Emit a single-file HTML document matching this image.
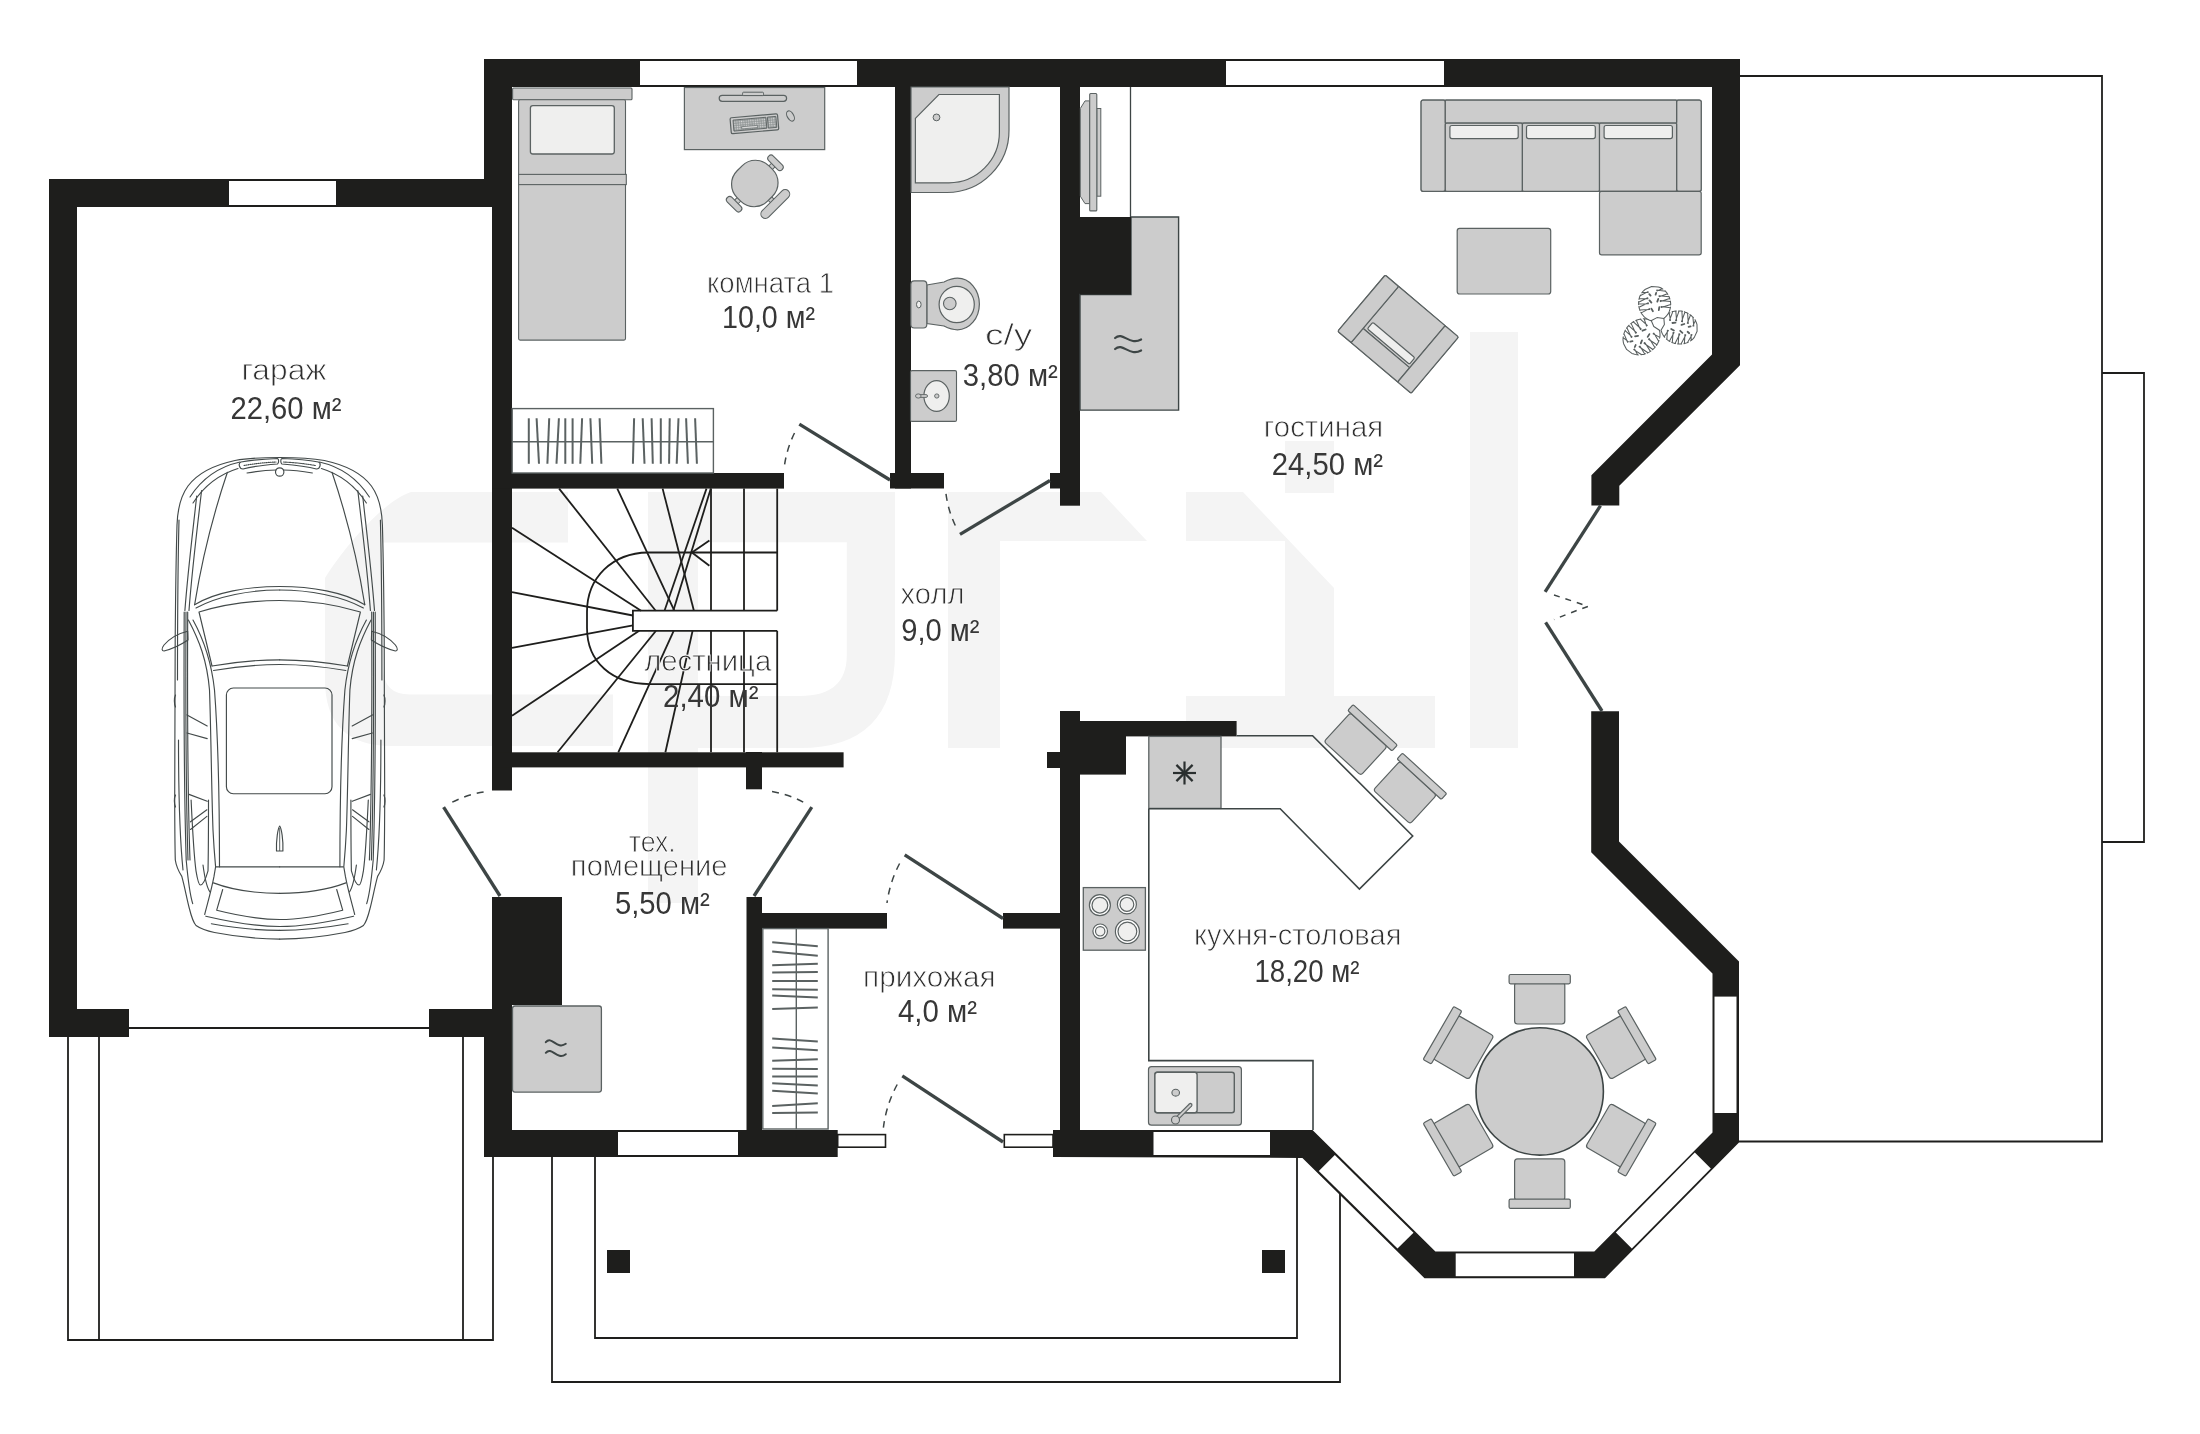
<!DOCTYPE html>
<html><head><meta charset="utf-8"><title>План 1 этажа</title>
<style>
html,body{margin:0;padding:0;background:#fff;}
body{width:2200px;height:1434px;overflow:hidden;font-family:"Liberation Sans",sans-serif;}
svg{display:block;}
</style></head>
<body>
<svg width="2200" height="1434" viewBox="0 0 2200 1434">
<rect width="2200" height="1434" fill="#ffffff"/>
<path d="M411,492 L568,492 L568,542.5 L383,542.5 L383,667 Q383,694.5 410,694.5 L613,694.5 L613,746 L392,746 Q325,746 325,680 L325,578 C345,546 385,500 411,492 Z" fill="#f4f4f4"/>
<path d="M648,492 L895,492 L895,652 Q895,748 800,748 L698,748 L698,903 L648,903 Z M698,542.2 L698,696 L800,696 Q846.8,696 846.8,655 L846.8,542.2 Z" fill="#f4f4f4" fill-rule="evenodd"/>
<polygon points="948.0,492.0 1101.0,492.0 1147.0,541.0 1000.0,541.0 1000.0,748.0 948.0,748.0" fill="#f4f4f4" />
<polygon points="1186.0,492.0 1243.0,492.0 1334.0,588.0 1334.0,696.0 1435.0,696.0 1435.0,748.0 1186.0,748.0 1186.0,696.0 1285.0,696.0 1285.0,541.0 1186.0,541.0" fill="#f4f4f4" />
<rect x="1285.0" y="441.0" width="49.0" height="52.0" fill="#f4f4f4" />
<rect x="1470.0" y="332.0" width="48.0" height="416.0" fill="#f4f4f4" />
<polyline points="1740,76 2102,76 2102,1141.5 1739,1141.5" fill="none" stroke="#1e1e1c" stroke-width="1.8"/>
<polyline points="2102,373 2144,373 2144,842 2102,842" fill="none" stroke="#1e1e1c" stroke-width="1.8"/>
<polyline points="68,1037 68,1340 493,1340 493,1037" fill="none" stroke="#1e1e1c" stroke-width="1.8"/>
<line x1="99.0" y1="1037.0" x2="99.0" y2="1340.0" stroke="#1e1e1c" stroke-width="1.8" />
<line x1="463.0" y1="1037.0" x2="463.0" y2="1340.0" stroke="#1e1e1c" stroke-width="1.8" />
<line x1="129.0" y1="1028.0" x2="429.0" y2="1028.0" stroke="#1e1e1c" stroke-width="1.8" />
<polyline points="552,1157 552,1382 1340,1382 1340,1193" fill="none" stroke="#1e1e1c" stroke-width="1.8"/>
<polyline points="595,1157 595,1338 1297,1338 1297,1157" fill="none" stroke="#1e1e1c" stroke-width="1.8"/>
<rect x="607.0" y="1250.0" width="23.0" height="23.0" fill="#1e1e1c" />
<rect x="1262.0" y="1250.0" width="23.0" height="23.0" fill="#1e1e1c" />
<rect x="49.0" y="179.0" width="28.0" height="858.0" fill="#1e1e1c" />
<rect x="49.0" y="179.0" width="463.0" height="28.0" fill="#1e1e1c" />
<rect x="49.0" y="1009.0" width="80.0" height="28.0" fill="#1e1e1c" />
<rect x="429.0" y="1009.0" width="83.0" height="28.0" fill="#1e1e1c" />
<rect x="484.0" y="59.0" width="28.0" height="148.0" fill="#1e1e1c" />
<rect x="492.0" y="179.0" width="20.0" height="611.5" fill="#1e1e1c" />
<rect x="492.0" y="897.0" width="70.0" height="108.0" fill="#1e1e1c" />
<rect x="492.0" y="1005.0" width="20.0" height="32.0" fill="#1e1e1c" />
<rect x="484.0" y="1009.0" width="28.0" height="148.0" fill="#1e1e1c" />
<rect x="484.0" y="59.0" width="1256.0" height="28.0" fill="#1e1e1c" />
<polygon points="1712.0,59.0 1740.0,59.0 1740.0,365.2 1619.3,485.8 1619.3,505.6 1591.4,505.6 1591.4,475.2 1712.0,354.6" fill="#1e1e1c" />
<polygon points="1591.2,711.3 1619.0,711.3 1619.0,841.5 1739.0,961.5 1739.0,1142.5 1605.0,1278.2 1424.5,1278.2 1302.4,1157.9 1053.0,1157.0 1053.0,1130.0 1312.5,1130.0 1435.4,1251.4 1594.3,1251.4 1712.5,1132.5 1712.5,973.6 1591.2,852.3" fill="#1e1e1c" />
<rect x="484.0" y="1130.0" width="353.7" height="27.0" fill="#1e1e1c" />
<rect x="895.0" y="87.0" width="16.0" height="401.5" fill="#1e1e1c" />
<rect x="890.0" y="473.0" width="54.0" height="15.5" fill="#1e1e1c" />
<rect x="492.0" y="473.0" width="292.0" height="15.6" fill="#1e1e1c" />
<rect x="492.0" y="752.3" width="351.6" height="15.1" fill="#1e1e1c" />
<rect x="746.0" y="752.0" width="16.0" height="37.3" fill="#1e1e1c" />
<rect x="1060.0" y="87.0" width="20.0" height="418.7" fill="#1e1e1c" />
<rect x="1050.0" y="473.0" width="10.0" height="15.5" fill="#1e1e1c" />
<rect x="1080.0" y="217.0" width="51.0" height="77.5" fill="#1e1e1c" />
<rect x="746.5" y="897.0" width="15.5" height="233.0" fill="#1e1e1c" />
<rect x="762.0" y="913.0" width="125.0" height="15.6" fill="#1e1e1c" />
<rect x="1003.0" y="913.0" width="59.0" height="15.6" fill="#1e1e1c" />
<rect x="1060.0" y="711.0" width="20.0" height="446.0" fill="#1e1e1c" />
<rect x="1047.0" y="752.0" width="15.0" height="16.0" fill="#1e1e1c" />
<rect x="1080.0" y="721.0" width="156.6" height="15.4" fill="#1e1e1c" />
<rect x="1080.0" y="736.0" width="46.0" height="38.6" fill="#1e1e1c" />
<rect x="229.0" y="181.0" width="107.0" height="24.0" fill="#ffffff" />
<rect x="640.0" y="61.0" width="217.0" height="24.0" fill="#ffffff" />
<rect x="1226.0" y="61.0" width="218.0" height="24.0" fill="#ffffff" />
<rect x="618.0" y="1132.0" width="120.0" height="23.0" fill="#ffffff" />
<rect x="1153.5" y="1132.0" width="116.5" height="23.0" fill="#ffffff" />
<rect x="1455.7" y="1253.4" width="118.3" height="22.8" fill="#ffffff" />
<rect x="1714.5" y="996.6" width="22.0" height="116.4" fill="#ffffff" />
<polygon points="1334.8,1154.9 1413.5,1232.7 1397.5,1248.6 1318.8,1170.9" fill="#ffffff" />
<polygon points="1615.8,1232.6 1694.8,1152.6 1710.8,1168.6 1631.8,1248.6" fill="#ffffff" />
<line x1="890" y1="480" x2="799.3" y2="424.2" stroke="#3d4545" stroke-width="3.3" stroke-linecap="butt"/>
<path d="M794.5,433.0 A106.5,106.5 0 0 0 784.4,466.0" fill="none" stroke="#3d4545" stroke-width="1.5" stroke-dasharray="7,6"/>
<line x1="1050" y1="480.5" x2="960" y2="534.3" stroke="#3d4545" stroke-width="3.3" stroke-linecap="butt"/>
<path d="M955.3,525.5 A104.9,104.9 0 0 1 945.8,492.3" fill="none" stroke="#3d4545" stroke-width="1.5" stroke-dasharray="7,6"/>
<line x1="500" y1="896" x2="443.6" y2="807.1" stroke="#3d4545" stroke-width="3.3" stroke-linecap="butt"/>
<path d="M452.3,802.2 A105.3,105.3 0 0 1 488.0,791.4" fill="none" stroke="#3d4545" stroke-width="1.5" stroke-dasharray="7,6"/>
<line x1="754" y1="896" x2="811.8" y2="807.1" stroke="#3d4545" stroke-width="3.3" stroke-linecap="butt"/>
<path d="M803.2,802.1 A106.0,106.0 0 0 0 768.1,790.9" fill="none" stroke="#3d4545" stroke-width="1.5" stroke-dasharray="7,6"/>
<line x1="1003" y1="918.5" x2="904.7" y2="854.9" stroke="#3d4545" stroke-width="3.3" stroke-linecap="butt"/>
<path d="M899.6,863.5 A117.1,117.1 0 0 0 887.0,903.0" fill="none" stroke="#3d4545" stroke-width="1.5" stroke-dasharray="7,6"/>
<line x1="1003" y1="1142" x2="902.3" y2="1075.9" stroke="#3d4545" stroke-width="3.3" stroke-linecap="butt"/>
<path d="M897.2,1084.5 A120.5,120.5 0 0 0 883.4,1127.7" fill="none" stroke="#3d4545" stroke-width="1.5" stroke-dasharray="7,6"/>
<line x1="1600.5" y1="505.6" x2="1545.1" y2="591.8" stroke="#3d4545" stroke-width="3.3"/>
<line x1="1602" y1="711" x2="1545.6" y2="622.3" stroke="#3d4545" stroke-width="3.3"/>
<path d="M1554,595 Q1571,600.5 1588,606.4 Q1571,612.5 1554,619.5" fill="none" stroke="#3d4545" stroke-width="1.5" stroke-dasharray="6,6"/>
<rect x="837.7" y="1134.6" width="47.8" height="12.6" fill="#fff" stroke="#1e1e1c" stroke-width="1.6"/>
<rect x="1004.3" y="1134.6" width="48.7" height="12.6" fill="#fff" stroke="#1e1e1c" stroke-width="1.6"/>
<line x1="711.0" y1="488.6" x2="711.0" y2="610.7" stroke="#1e1e1c" stroke-width="1.8" />
<line x1="711.0" y1="630.8" x2="711.0" y2="752.3" stroke="#1e1e1c" stroke-width="1.8" />
<line x1="744.0" y1="488.6" x2="744.0" y2="610.7" stroke="#1e1e1c" stroke-width="1.8" />
<line x1="744.0" y1="630.8" x2="744.0" y2="752.3" stroke="#1e1e1c" stroke-width="1.8" />
<line x1="777.2" y1="488.6" x2="777.2" y2="610.7" stroke="#1e1e1c" stroke-width="1.8" />
<line x1="777.2" y1="630.8" x2="777.2" y2="752.3" stroke="#1e1e1c" stroke-width="1.8" />
<line x1="648.0" y1="552.5" x2="777.2" y2="552.5" stroke="#1e1e1c" stroke-width="1.8" />
<line x1="649.7" y1="684.1" x2="777.2" y2="684.1" stroke="#1e1e1c" stroke-width="1.8" />
<path d="M777.2,610.7 L632.9,610.7 L632.9,630.8 L777.2,630.8" fill="#fff" stroke="#1e1e1c" stroke-width="1.8" fill="none"/>
<path d="M648,552.5 C612,553 587,578 587,612 L587,628 C587,662 612,684 649.7,684.1" stroke="#1e1e1c" stroke-width="1.8" fill="none"/>
<line x1="559.1" y1="488.6" x2="655.7" y2="610.7" stroke="#1e1e1c" stroke-width="1.8" />
<line x1="617.3" y1="488.6" x2="674.3" y2="610.7" stroke="#1e1e1c" stroke-width="1.8" />
<line x1="662.6" y1="488.6" x2="693.9" y2="610.7" stroke="#1e1e1c" stroke-width="1.8" />
<line x1="512.0" y1="527.7" x2="641.1" y2="610.7" stroke="#1e1e1c" stroke-width="1.8" />
<line x1="512.0" y1="592.1" x2="632.9" y2="615.5" stroke="#1e1e1c" stroke-width="1.8" />
<line x1="512.0" y1="647.8" x2="632.9" y2="625.3" stroke="#1e1e1c" stroke-width="1.8" />
<line x1="512.0" y1="715.7" x2="639.2" y2="630.8" stroke="#1e1e1c" stroke-width="1.8" />
<line x1="557.6" y1="752.3" x2="656.0" y2="630.8" stroke="#1e1e1c" stroke-width="1.8" />
<line x1="618.3" y1="752.3" x2="673.7" y2="630.8" stroke="#1e1e1c" stroke-width="1.8" />
<line x1="665.4" y1="752.3" x2="692.6" y2="630.8" stroke="#1e1e1c" stroke-width="1.8" />
<line x1="706.5" y1="488.6" x2="664.5" y2="610.7" stroke="#1e1e1c" stroke-width="1.8" />
<line x1="710.8" y1="488.6" x2="673.3" y2="610.7" stroke="#1e1e1c" stroke-width="1.8" />
<line x1="709.4" y1="540.4" x2="691.9" y2="552.5" stroke="#1e1e1c" stroke-width="1.8" />
<line x1="691.9" y1="552.5" x2="709.4" y2="565.7" stroke="#1e1e1c" stroke-width="1.8" />
<rect x="512.6" y="88.0" width="119.4" height="11.8" rx="1" fill="#cccccc" stroke="#5b6262" stroke-width="1.1" />
<rect x="518.6" y="99.8" width="106.9" height="240.3" rx="1.5" fill="#cccccc" stroke="#5b6262" stroke-width="1.1" />
<rect x="518.6" y="174.4" width="107.7" height="10.2" rx="0" fill="#cccccc" stroke="#5b6262" stroke-width="1.1" />
<rect x="530.4" y="105.6" width="83.9" height="48.4" rx="2.5" fill="#efefee" stroke="#5b6262" stroke-width="1.3" />
<rect x="684.4" y="87.5" width="140.3" height="62.1" rx="0" fill="#cccccc" stroke="#5b6262" stroke-width="1.2" />
<rect x="719.2" y="95.3" width="67.4" height="6.0" rx="3" fill="#cccccc" stroke="#5b6262" stroke-width="1.2" />
<rect x="742.6" y="92.2" width="20.9" height="3.4" rx="1" fill="#cccccc" stroke="#5b6262" stroke-width="1" />
<g transform="translate(754.4,123.8) rotate(-5)">
<rect x="-23.8" y="-8.0" width="47.6" height="16.0" rx="1.5" fill="#cccccc" stroke="#5b6262" stroke-width="1.2" />
<defs><pattern id="kb" width="2.3" height="2.3" patternUnits="userSpaceOnUse"><rect width="2.3" height="2.3" fill="#8a9090"/><rect x="0.5" y="0.5" width="1.4" height="1.4" fill="#d8d8d8"/></pattern></defs>
<rect x="-21" y="-5.5" width="33" height="11" fill="url(#kb)" stroke="#5b6262" stroke-width="0.9"/>
<rect x="13.5" y="-5.5" width="8.5" height="11" fill="url(#kb)" stroke="#5b6262" stroke-width="0.9"/>
<rect x="-13" y="1.8" width="16" height="2.2" fill="#d8d8d8" stroke="#5b6262" stroke-width="0.6"/>
</g>
<ellipse cx="790.5" cy="116" rx="3.2" ry="5.6" transform="rotate(-30 790.5 116)" fill="#cccccc" stroke="#5b6262" stroke-width="1.1"/>
<g transform="translate(754.8,183.5) rotate(45)">
<rect x="-2.5" y="-27.0" width="5.0" height="54.0" rx="0" fill="#cccccc" stroke="#5b6262" stroke-width="1" />
<rect x="18.0" y="-2.5" width="8.0" height="5.0" rx="0" fill="#cccccc" stroke="#5b6262" stroke-width="1" />
<rect x="-9.5" y="26.0" width="19.0" height="6.5" rx="3.2" fill="#cccccc" stroke="#5b6262" stroke-width="1.1" />
<rect x="-9.5" y="-32.5" width="19.0" height="6.5" rx="3.2" fill="#cccccc" stroke="#5b6262" stroke-width="1.1" />
<rect x="24.5" y="-18.5" width="9.0" height="37.0" rx="4.5" fill="#cccccc" stroke="#5b6262" stroke-width="1.1" />
<rect x="-21.5" y="-22.5" width="43" height="45" rx="19" fill="#cccccc" stroke="#5b6262" stroke-width="1.2"/>
</g>
<rect x="512.2" y="408.6" width="201.2" height="64.4" fill="#fff" stroke="#5b6262" stroke-width="1.4"/>
<line x1="512.2" y1="441.7" x2="713.4" y2="441.7" stroke="#5b6262" stroke-width="1.4" />
<line x1="528.8" y1="418.3" x2="528.8" y2="463.8" stroke="#5b6262" stroke-width="2.0" />
<line x1="536.6" y1="418.3" x2="539.0" y2="463.8" stroke="#5b6262" stroke-width="2.0" />
<line x1="549.2" y1="418.3" x2="547.4" y2="463.8" stroke="#5b6262" stroke-width="2.0" />
<line x1="558.9" y1="418.3" x2="556.5" y2="463.8" stroke="#5b6262" stroke-width="2.0" />
<line x1="565.3" y1="418.3" x2="565.3" y2="463.8" stroke="#5b6262" stroke-width="2.0" />
<line x1="572.6" y1="418.3" x2="572.6" y2="463.8" stroke="#5b6262" stroke-width="2.0" />
<line x1="582.1" y1="418.3" x2="580.3" y2="463.8" stroke="#5b6262" stroke-width="2.0" />
<line x1="590.4" y1="418.3" x2="592.2" y2="463.8" stroke="#5b6262" stroke-width="2.0" />
<line x1="599.6" y1="418.3" x2="601.4" y2="463.8" stroke="#5b6262" stroke-width="2.0" />
<line x1="634.1" y1="418.3" x2="632.9" y2="463.8" stroke="#5b6262" stroke-width="2.0" />
<line x1="642.7" y1="418.3" x2="644.5" y2="463.8" stroke="#5b6262" stroke-width="2.0" />
<line x1="651.6" y1="418.3" x2="652.8" y2="463.8" stroke="#5b6262" stroke-width="2.0" />
<line x1="660.8" y1="418.3" x2="660.8" y2="463.8" stroke="#5b6262" stroke-width="2.0" />
<line x1="669.7" y1="418.3" x2="669.1" y2="463.8" stroke="#5b6262" stroke-width="2.0" />
<line x1="678.5" y1="418.3" x2="676.7" y2="463.8" stroke="#5b6262" stroke-width="2.0" />
<line x1="686.1" y1="418.3" x2="687.9" y2="463.8" stroke="#5b6262" stroke-width="2.0" />
<line x1="695.1" y1="418.3" x2="696.9" y2="463.8" stroke="#5b6262" stroke-width="2.0" />
<path d="M911,87 L1009,87 L1009,130 A62,62 0 0 1 947,192.5 L911,192.5 Z" fill="#cccccc" stroke="#5b6262" stroke-width="1.2"/>
<path d="M915.4,118.3 L938.9,94.5 L999.4,94.5 L999.4,132 A50.5,50.5 0 0 1 948.9,182.8 L915.4,182.8 Z" fill="#efefee" stroke="#5b6262" stroke-width="1.2"/>
<circle cx="936.5" cy="117.4" r="3.4" fill="#cccccc" stroke="#5b6262" stroke-width="1"/>
<path d="M926.8,285 L944,282 C949,279.5 953,278.2 957.5,278.2 A21.9,25.8 0 0 1 957.5,329.8 C953,329.8 949,328.5 944,326 L926.8,323.5 Z" fill="#cccccc" stroke="#5b6262" stroke-width="1.2"/>
<rect x="910.8" y="280.9" width="16.0" height="47.1" rx="3.5" fill="#cccccc" stroke="#5b6262" stroke-width="1.2" />
<ellipse cx="918.8" cy="304.5" rx="2.3" ry="3.4" fill="#efefee" stroke="#5b6262" stroke-width="1"/>
<ellipse cx="956.7" cy="304.5" rx="17.6" ry="18.2" fill="#efefee" stroke="#5b6262" stroke-width="1.2"/>
<circle cx="949.8" cy="303.5" r="6.3" fill="#cccccc" stroke="#5b6262" stroke-width="1.1"/>
<rect x="910.5" y="370.6" width="46.0" height="50.8" rx="1.5" fill="#cccccc" stroke="#5b6262" stroke-width="1.1" />
<ellipse cx="936.6" cy="396" rx="12.7" ry="15.4" fill="#efefee" stroke="#5b6262" stroke-width="1.2"/>
<rect x="918.5" y="394.6" width="9" height="2.8" rx="1.4" fill="#cccccc" stroke="#5b6262" stroke-width="0.9"/>
<ellipse cx="918.3" cy="396" rx="2.8" ry="2.1" fill="#cccccc" stroke="#5b6262" stroke-width="0.9"/>
<ellipse cx="936.8" cy="396" rx="2.2" ry="2.1" fill="#cccccc" stroke="#5b6262" stroke-width="0.9"/>
<line x1="1130.5" y1="87.0" x2="1130.5" y2="217.0" stroke="#3d4545" stroke-width="1.3" />
<polygon points="1080.3,108.5 1085,100.9 1089.7,100.9 1089.7,203.6 1085,203.6 1080.3,196.2" fill="#cccccc" stroke="#5b6262" stroke-width="1"/>
<rect x="1096.8" y="108.5" width="4.0" height="87.7" rx="0" fill="#cccccc" stroke="#5b6262" stroke-width="1" />
<rect x="1089.7" y="93.5" width="7.1" height="117.4" rx="1" fill="#cccccc" stroke="#5b6262" stroke-width="1.1" />
<path d="M1131,217 L1178.6,217 L1178.6,410.1 L1080,410.1 L1080,294.5 L1131,294.5 Z" fill="#cccccc" stroke="#3d4545" stroke-width="1.4"/>
<rect x="1080.0" y="217.0" width="51.0" height="77.5" fill="#1e1e1c" />
<path d="M1115.1,338.0 C1122.9,331.0 1129.4,346.0 1141.1,339.5" fill="none" stroke="#3d4545" stroke-width="2.2" stroke-linecap="round"/>
<path d="M1115.1,349.0 C1122.9,342.0 1129.4,357.0 1141.1,350.5" fill="none" stroke="#3d4545" stroke-width="2.2" stroke-linecap="round"/>
<rect x="1421.1" y="100.2" width="280.1" height="91.1" rx="2" fill="#cccccc" stroke="#5b6262" stroke-width="1.2" />
<rect x="1421.1" y="100.2" width="24.2" height="91.1" rx="2" fill="#cccccc" stroke="#5b6262" stroke-width="1.2" />
<rect x="1676.6" y="100.2" width="24.6" height="91.1" rx="2" fill="#cccccc" stroke="#5b6262" stroke-width="1.2" />
<rect x="1445.3" y="100.2" width="231.3" height="23.0" rx="1" fill="#cccccc" stroke="#5b6262" stroke-width="1.2" />
<rect x="1445.3" y="123.2" width="77.1" height="68.1" rx="1.5" fill="#cccccc" stroke="#5b6262" stroke-width="1.2" />
<rect x="1522.4" y="123.2" width="77.1" height="68.1" rx="1.5" fill="#cccccc" stroke="#5b6262" stroke-width="1.2" />
<rect x="1599.5" y="123.2" width="77.1" height="68.1" rx="1" fill="#cccccc" stroke="#5b6262" stroke-width="1.2" />
<rect x="1449.9" y="125.5" width="68.3" height="13.1" rx="2" fill="#efefee" stroke="#5b6262" stroke-width="1.2" />
<rect x="1526.5" y="125.5" width="68.8" height="13.1" rx="2" fill="#efefee" stroke="#5b6262" stroke-width="1.2" />
<rect x="1604.1" y="125.5" width="68.3" height="13.1" rx="2" fill="#efefee" stroke="#5b6262" stroke-width="1.2" />
<rect x="1599.5" y="191.3" width="101.7" height="63.5" rx="2" fill="#cccccc" stroke="#5b6262" stroke-width="1.2" />
<rect x="1457.2" y="228.4" width="93.5" height="65.6" rx="2.5" fill="#cccccc" stroke="#5b6262" stroke-width="1.2" />
<g transform="translate(1385.2,275.1) rotate(40.2)">
<rect x="0.0" y="0.0" width="96.0" height="73.5" rx="1.5" fill="#cccccc" stroke="#5b6262" stroke-width="1.2" />
<rect x="17.5" y="0.0" width="61.0" height="55.0" rx="0" fill="#cccccc" stroke="#5b6262" stroke-width="1.2" />
<rect x="17.5" y="55.0" width="61.0" height="18.5" rx="0" fill="#cccccc" stroke="#5b6262" stroke-width="1.2" />
<rect x="0.0" y="0.0" width="17.5" height="73.5" rx="1.5" fill="#cccccc" stroke="#5b6262" stroke-width="1.2" />
<rect x="78.5" y="0.0" width="17.5" height="73.5" rx="1.5" fill="#cccccc" stroke="#5b6262" stroke-width="1.2" />
<rect x="21.0" y="44.0" width="55.0" height="8.5" rx="1.5" fill="#efefee" stroke="#5b6262" stroke-width="1.2" />
</g>
<polygon points="1653.8,326.5 1651.1,320.2 1649.2,319.5 1647.5,319.1 1646.0,318.9 1644.6,318.8 1643.3,318.8 1644.1,318.7 1646.5,326.0 1647.3,325.3 1640.3,319.1 1640.9,319.0 1639.8,319.2 1638.7,319.5 1637.7,319.8 1636.7,320.2 1635.7,320.6 1636.3,320.3 1640.4,329.6 1641.2,329.0 1633.4,321.8 1633.9,321.5 1633.0,322.0 1632.2,322.6 1631.4,323.2 1630.6,323.8 1631.1,323.4 1635.7,333.3 1636.5,332.6 1628.7,325.6 1629.1,325.2 1628.4,325.9 1627.8,326.6 1627.1,327.4 1626.5,328.3 1626.9,327.8 1631.4,337.5 1632.1,336.8 1625.1,330.7 1625.4,330.1 1624.9,331.1 1624.5,332.1 1624.1,333.1 1623.7,334.3 1623.9,333.6 1627.6,342.3 1628.3,341.6 1623.1,337.6 1623.2,336.8 1623.1,338.1 1623.0,339.7 1623.2,341.4 1623.5,343.4 1626.6,349.4 1631.9,353.4 1633.9,354.1 1635.5,354.5 1637.0,354.8 1638.4,354.9 1637.6,354.8 1634.5,349.0 1633.7,349.6 1641.7,354.7 1641.0,354.8 1642.1,354.6 1643.3,354.4 1644.3,354.2 1645.4,353.8 1644.7,354.0 1639.9,346.1 1639.1,346.7 1647.9,352.8 1647.3,353.1 1648.3,352.6 1649.2,352.1 1650.0,351.6 1650.9,351.1 1650.4,351.4 1644.8,342.5 1644.0,343.2 1652.9,349.5 1652.5,349.8 1653.2,349.2 1653.9,348.5 1654.6,347.8 1655.3,347.0 1654.9,347.5 1649.2,338.5 1648.5,339.2 1656.9,344.8 1656.5,345.4 1657.1,344.5 1657.6,343.6 1658.1,342.6 1658.6,341.6 1659.0,340.5 1658.7,341.2 1653.8,333.1 1653.1,333.8 1659.8,337.4 1659.6,338.2 1659.9,336.9 1660.0,335.5 1660.0,334.0 1659.9,332.3 1659.5,330.3" fill="#fff" stroke="#585e5e" stroke-width="1.05" stroke-linejoin="round"/>
<line x1="1645.6" y1="329.5" x2="1642.5" y2="330.7" stroke="#585e5e" stroke-width="1.8" stroke-linecap="round"/>
<line x1="1649.4" y1="334.1" x2="1647.7" y2="336.9" stroke="#585e5e" stroke-width="1.8" stroke-linecap="round"/>
<line x1="1638.1" y1="335.8" x2="1635.1" y2="336.4" stroke="#585e5e" stroke-width="1.8" stroke-linecap="round"/>
<line x1="1642.0" y1="340.4" x2="1640.8" y2="343.3" stroke="#585e5e" stroke-width="1.8" stroke-linecap="round"/>
<line x1="1632.5" y1="341.2" x2="1630.3" y2="341.7" stroke="#585e5e" stroke-width="1.8" stroke-linecap="round"/>
<line x1="1635.7" y1="345.0" x2="1634.8" y2="347.0" stroke="#585e5e" stroke-width="1.8" stroke-linecap="round"/>
<polygon points="1664.4,324.4 1661.0,330.3 1661.7,332.2 1662.4,333.8 1663.1,335.1 1663.9,336.3 1664.7,337.3 1664.2,336.7 1668.4,330.4 1667.4,330.2 1666.9,339.4 1666.4,339.0 1667.2,339.7 1668.1,340.4 1669.0,341.0 1669.9,341.5 1669.4,341.2 1674.1,332.6 1673.1,332.4 1672.3,342.6 1671.8,342.4 1672.7,342.8 1673.7,343.1 1674.6,343.4 1675.6,343.6 1675.0,343.5 1679.9,334.1 1678.9,333.8 1678.2,344.0 1677.6,343.9 1678.6,344.0 1679.6,344.1 1680.6,344.0 1681.7,344.0 1681.0,344.0 1685.8,334.9 1684.9,334.6 1684.4,343.5 1683.8,343.7 1684.8,343.4 1685.9,343.1 1687.0,342.7 1688.2,342.2 1687.5,342.6 1692.0,334.8 1691.0,334.6 1691.2,340.4 1690.5,340.9 1691.7,340.0 1693.0,338.9 1694.3,337.4 1697.1,331.3 1697.0,324.6 1696.4,322.7 1695.7,321.1 1695.0,319.8 1695.4,320.6 1692.9,325.9 1693.8,326.1 1692.9,317.1 1693.4,317.7 1692.5,316.8 1691.7,316.0 1690.8,315.2 1689.9,314.6 1690.5,315.0 1687.3,323.3 1688.3,323.5 1687.6,313.2 1688.1,313.5 1687.2,313.0 1686.3,312.5 1685.3,312.2 1684.4,311.8 1685.0,312.0 1681.5,321.6 1682.5,321.8 1681.9,311.2 1682.5,311.3 1681.5,311.1 1680.5,311.0 1679.5,310.9 1678.5,310.9 1679.1,310.9 1675.6,320.6 1676.6,320.8 1675.8,311.0 1676.4,311.0 1675.4,311.1 1674.3,311.3 1673.2,311.5 1672.1,311.8 1672.8,311.6 1669.5,320.3 1670.5,320.5 1669.2,313.0 1669.9,312.7 1668.8,313.3 1667.6,314.0 1666.4,314.9 1665.1,316.0 1663.8,317.6" fill="#fff" stroke="#585e5e" stroke-width="1.05" stroke-linejoin="round"/>
<line x1="1671.2" y1="328.9" x2="1673.9" y2="330.5" stroke="#585e5e" stroke-width="1.8" stroke-linecap="round"/>
<line x1="1672.4" y1="323.0" x2="1675.5" y2="322.6" stroke="#585e5e" stroke-width="1.8" stroke-linecap="round"/>
<line x1="1680.2" y1="330.8" x2="1682.4" y2="332.8" stroke="#585e5e" stroke-width="1.8" stroke-linecap="round"/>
<line x1="1681.5" y1="324.9" x2="1684.3" y2="324.0" stroke="#585e5e" stroke-width="1.8" stroke-linecap="round"/>
<line x1="1687.6" y1="331.8" x2="1689.2" y2="333.2" stroke="#585e5e" stroke-width="1.8" stroke-linecap="round"/>
<line x1="1688.6" y1="326.9" x2="1690.6" y2="326.4" stroke="#585e5e" stroke-width="1.8" stroke-linecap="round"/>
<polygon points="1657.0,317.6 1663.8,318.4 1665.3,317.1 1666.5,315.9 1667.4,314.7 1668.2,313.6 1668.8,312.5 1669.3,311.4 1669.7,310.3 1670.0,309.2 1670.3,308.1 1670.5,307.1 1670.4,307.7 1661.0,306.5 1661.2,307.5 1670.7,304.4 1670.6,305.0 1670.7,304.0 1670.6,303.0 1670.5,302.0 1670.4,301.0 1670.5,301.6 1660.2,300.6 1660.4,301.6 1669.7,298.5 1669.9,299.1 1669.6,298.1 1669.3,297.2 1668.8,296.2 1669.1,296.8 1659.0,295.7 1659.2,296.7 1667.5,293.8 1667.8,294.4 1667.2,293.4 1666.6,292.6 1665.8,291.7 1665.0,290.8 1665.5,291.3 1656.7,290.0 1656.9,291.0 1662.2,288.7 1662.9,289.1 1661.6,288.3 1660.1,287.6 1658.2,286.9 1651.6,286.6 1645.5,289.2 1643.9,290.5 1642.7,291.7 1641.8,292.9 1642.3,292.2 1648.1,292.6 1648.0,291.6 1640.1,295.8 1640.4,295.1 1639.9,296.2 1639.5,297.3 1639.2,298.4 1639.0,299.4 1639.1,298.8 1647.9,298.7 1647.7,297.7 1638.6,302.2 1638.6,301.5 1638.6,302.6 1638.6,303.6 1638.6,304.6 1638.6,304.0 1648.4,303.7 1648.3,302.7 1639.0,307.2 1638.9,306.6 1639.1,307.6 1639.3,308.5 1639.6,309.5 1640.0,310.4 1639.7,309.9 1649.7,309.5 1649.5,308.6 1641.2,312.9 1640.9,312.3 1641.4,313.2 1642.0,314.1 1642.7,315.0 1643.4,315.9 1644.3,316.8 1645.2,317.6 1646.3,318.5 1647.6,319.3 1649.1,320.0 1651.0,320.7" fill="#fff" stroke="#585e5e" stroke-width="1.05" stroke-linejoin="round"/>
<line x1="1658.8" y1="310.2" x2="1659.3" y2="307.2" stroke="#585e5e" stroke-width="1.8" stroke-linecap="round"/>
<line x1="1652.9" y1="311.2" x2="1651.4" y2="308.6" stroke="#585e5e" stroke-width="1.8" stroke-linecap="round"/>
<line x1="1657.3" y1="301.6" x2="1658.3" y2="298.9" stroke="#585e5e" stroke-width="1.8" stroke-linecap="round"/>
<line x1="1651.4" y1="302.6" x2="1649.5" y2="300.4" stroke="#585e5e" stroke-width="1.8" stroke-linecap="round"/>
<line x1="1655.6" y1="294.7" x2="1656.2" y2="292.8" stroke="#585e5e" stroke-width="1.8" stroke-linecap="round"/>
<line x1="1650.6" y1="295.6" x2="1649.3" y2="294.1" stroke="#585e5e" stroke-width="1.8" stroke-linecap="round"/>
<rect x="1148.8" y="736.4" width="72.2" height="72.0" rx="0" fill="#cccccc" stroke="#5b6262" stroke-width="1.3" />
<line x1="1184.5" y1="761.5" x2="1184.5" y2="784.5" stroke="#2a2f2f" stroke-width="2.2" />
<line x1="1192.6" y1="764.9" x2="1176.4" y2="781.1" stroke="#2a2f2f" stroke-width="2.2" />
<line x1="1196.0" y1="773.0" x2="1173.0" y2="773.0" stroke="#2a2f2f" stroke-width="2.2" />
<line x1="1192.6" y1="781.1" x2="1176.4" y2="764.9" stroke="#2a2f2f" stroke-width="2.2" />
<path d="M1236.6,735.8 L1312.6,735.8 L1412.7,836 L1359.4,889.1 L1280.2,808.7 L1148.8,808.7 M1148.8,808.7 L1148.8,1060.6 L1313,1060.6 L1313,1130" fill="none" stroke="#3d4545" stroke-width="1.6"/>
<g transform="translate(1355.6,744.1) rotate(42.5)">
<rect x="-25.0" y="-19.5" width="50.0" height="39.0" rx="3" fill="#cccccc" stroke="#5b6262" stroke-width="1.2" />
<rect x="-28.5" y="-27.5" width="60.0" height="8.0" rx="1.5" fill="#cccccc" stroke="#5b6262" stroke-width="1.2" />
</g>
<g transform="translate(1404.9,792.6) rotate(42.5)">
<rect x="-25.0" y="-19.5" width="50.0" height="39.0" rx="3" fill="#cccccc" stroke="#5b6262" stroke-width="1.2" />
<rect x="-28.5" y="-27.5" width="60.0" height="8.0" rx="1.5" fill="#cccccc" stroke="#5b6262" stroke-width="1.2" />
</g>
<rect x="1083.3" y="887.6" width="62.1" height="62.6" rx="0" fill="#cccccc" stroke="#5b6262" stroke-width="1.3" />
<circle cx="1099.9" cy="905.2" r="10.5" fill="#fff" stroke="#5b6262" stroke-width="1.2"/>
<circle cx="1099.9" cy="905.2" r="7.9" fill="#efefee" stroke="#5b6262" stroke-width="1.2"/>
<circle cx="1126.9" cy="904.4" r="9.5" fill="#fff" stroke="#5b6262" stroke-width="1.2"/>
<circle cx="1126.9" cy="904.4" r="6.9" fill="#efefee" stroke="#5b6262" stroke-width="1.2"/>
<circle cx="1100.2" cy="931.3" r="7.3" fill="#fff" stroke="#5b6262" stroke-width="1.2"/>
<circle cx="1100.2" cy="931.3" r="4.7" fill="#efefee" stroke="#5b6262" stroke-width="1.2"/>
<circle cx="1127.4" cy="931.5" r="12" fill="#fff" stroke="#5b6262" stroke-width="1.2"/>
<circle cx="1127.4" cy="931.5" r="9.4" fill="#efefee" stroke="#5b6262" stroke-width="1.2"/>
<rect x="1148.5" y="1066.7" width="92.9" height="58.5" rx="3" fill="#cccccc" stroke="#5b6262" stroke-width="1.2" />
<rect x="1154.9" y="1072.3" width="79.4" height="40.4" rx="2.5" fill="#cccccc" stroke="#5b6262" stroke-width="1.4" />
<rect x="1154.9" y="1072.3" width="42.2" height="40.4" rx="2.5" fill="#efefee" stroke="#5b6262" stroke-width="1.4" />
<ellipse cx="1175.7" cy="1092.7" rx="3.8" ry="3.4" fill="#cccccc" stroke="#5b6262" stroke-width="1.1"/>
<line x1="1176.2" y1="1119.3" x2="1190.4" y2="1105.1" stroke="#5b6262" stroke-width="4.2" stroke-linecap="round"/>
<line x1="1176.2" y1="1119.3" x2="1190.4" y2="1105.1" stroke="#cccccc" stroke-width="2" stroke-linecap="round"/>
<circle cx="1175.5" cy="1120" r="4" fill="#cccccc" stroke="#5b6262" stroke-width="1.1"/>
<g transform="translate(1539.7,1003.2) rotate(0.0)">
<rect x="-25.1" y="-20.9" width="50.2" height="41.7" rx="3" fill="#cccccc" stroke="#5b6262" stroke-width="1.2" />
<rect x="-30.6" y="-28.7" width="61.2" height="9.3" rx="1.5" fill="#cccccc" stroke="#5b6262" stroke-width="1.2" />
</g>
<g transform="translate(1616.1,1047.3) rotate(60.0)">
<rect x="-25.1" y="-20.9" width="50.2" height="41.7" rx="3" fill="#cccccc" stroke="#5b6262" stroke-width="1.2" />
<rect x="-30.6" y="-28.7" width="61.2" height="9.3" rx="1.5" fill="#cccccc" stroke="#5b6262" stroke-width="1.2" />
</g>
<g transform="translate(1616.1,1135.5) rotate(120.0)">
<rect x="-25.1" y="-20.9" width="50.2" height="41.7" rx="3" fill="#cccccc" stroke="#5b6262" stroke-width="1.2" />
<rect x="-30.6" y="-28.7" width="61.2" height="9.3" rx="1.5" fill="#cccccc" stroke="#5b6262" stroke-width="1.2" />
</g>
<g transform="translate(1539.7,1179.7) rotate(180.0)">
<rect x="-25.1" y="-20.9" width="50.2" height="41.7" rx="3" fill="#cccccc" stroke="#5b6262" stroke-width="1.2" />
<rect x="-30.6" y="-28.7" width="61.2" height="9.3" rx="1.5" fill="#cccccc" stroke="#5b6262" stroke-width="1.2" />
</g>
<g transform="translate(1463.3,1135.5) rotate(240.0)">
<rect x="-25.1" y="-20.9" width="50.2" height="41.7" rx="3" fill="#cccccc" stroke="#5b6262" stroke-width="1.2" />
<rect x="-30.6" y="-28.7" width="61.2" height="9.3" rx="1.5" fill="#cccccc" stroke="#5b6262" stroke-width="1.2" />
</g>
<g transform="translate(1463.3,1047.3) rotate(300.0)">
<rect x="-25.1" y="-20.9" width="50.2" height="41.7" rx="3" fill="#cccccc" stroke="#5b6262" stroke-width="1.2" />
<rect x="-30.6" y="-28.7" width="61.2" height="9.3" rx="1.5" fill="#cccccc" stroke="#5b6262" stroke-width="1.2" />
</g>
<circle cx="1539.7" cy="1091.4" r="63.7" fill="#cccccc" stroke="#3d4545" stroke-width="1.6"/>
<rect x="512.5" y="1006.0" width="88.9" height="86.1" rx="2.5" fill="#cccccc" stroke="#5b6262" stroke-width="1.3" />
<path d="M545.8,1042.2 C551.8,1035.2 556.8,1050.2 565.8,1043.8" fill="none" stroke="#3d4545" stroke-width="2" stroke-linecap="round"/>
<path d="M545.8,1052.8 C551.8,1045.8 556.8,1060.8 565.8,1054.2" fill="none" stroke="#3d4545" stroke-width="2" stroke-linecap="round"/>
<rect x="762.8" y="928.6" width="65.3" height="200.4" fill="#fff" stroke="#5b6262" stroke-width="1.4"/>
<line x1="796.3" y1="928.6" x2="796.3" y2="1129.0" stroke="#5b6262" stroke-width="1.4" />
<line x1="772.2" y1="942.2" x2="817.8" y2="946.3" stroke="#5b6262" stroke-width="2.0" />
<line x1="772.2" y1="951.6" x2="817.8" y2="955.8" stroke="#5b6262" stroke-width="2.0" />
<line x1="772.2" y1="965.2" x2="817.8" y2="963.7" stroke="#5b6262" stroke-width="2.0" />
<line x1="772.2" y1="972.5" x2="817.8" y2="971.9" stroke="#5b6262" stroke-width="2.0" />
<line x1="772.2" y1="980.9" x2="817.8" y2="980.9" stroke="#5b6262" stroke-width="2.0" />
<line x1="772.2" y1="989.2" x2="817.8" y2="989.8" stroke="#5b6262" stroke-width="2.0" />
<line x1="772.2" y1="995.5" x2="817.8" y2="997.6" stroke="#5b6262" stroke-width="2.0" />
<line x1="772.2" y1="1009.1" x2="817.8" y2="1007.6" stroke="#5b6262" stroke-width="2.0" />
<line x1="772.2" y1="1038.4" x2="817.8" y2="1041.5" stroke="#5b6262" stroke-width="2.0" />
<line x1="772.2" y1="1047.4" x2="817.8" y2="1050.3" stroke="#5b6262" stroke-width="2.0" />
<line x1="772.2" y1="1060.8" x2="817.8" y2="1059.3" stroke="#5b6262" stroke-width="2.0" />
<line x1="772.2" y1="1068.7" x2="817.8" y2="1069.1" stroke="#5b6262" stroke-width="2.0" />
<line x1="772.2" y1="1076.4" x2="817.8" y2="1076.4" stroke="#5b6262" stroke-width="2.0" />
<line x1="772.2" y1="1083.3" x2="817.8" y2="1085.4" stroke="#5b6262" stroke-width="2.0" />
<line x1="772.2" y1="1090.7" x2="817.8" y2="1093.4" stroke="#5b6262" stroke-width="2.0" />
<line x1="772.2" y1="1105.9" x2="817.8" y2="1103.2" stroke="#5b6262" stroke-width="2.0" />
<line x1="772.2" y1="1113.0" x2="817.8" y2="1112.6" stroke="#5b6262" stroke-width="2.0" />
<path d="M279.7,457.5 C262,457.5 246,458.5 235,460.5 C214,465 197,474 188,486 C180,497 177.5,510 177,525 C176,560 175.5,600 175.2,640 C175,700 174.5,760 174.7,800 C174.8,830 175,850 175.3,860 C176.5,868 179,872 181.8,876.4 C185,888 187,900 189.5,909 C191.5,917 193,922 196,925.5 C201,929 207,931 214.5,932.5 C235,936.5 258,939 279.7,939.1" fill="none" stroke="#434a4a" stroke-width="1.15" stroke-linejoin="round" stroke-linecap="round" />
<path d="M279.7,457.5 C262,457.5 246,458.5 235,460.5 C214,465 197,474 188,486 C180,497 177.5,510 177,525 C176,560 175.5,600 175.2,640 C175,700 174.5,760 174.7,800 C174.8,830 175,850 175.3,860 C176.5,868 179,872 181.8,876.4 C185,888 187,900 189.5,909 C191.5,917 193,922 196,925.5 C201,929 207,931 214.5,932.5 C235,936.5 258,939 279.7,939.1" fill="none" stroke="#434a4a" stroke-width="1.15" stroke-linejoin="round" stroke-linecap="round"  transform="translate(559.4,0) scale(-1,1)"/>
<path d="M240,462 C222,466 203,477 190,497 M238,468.5 C220,474 204,486 193,503" fill="none" stroke="#434a4a" stroke-width="1.15" stroke-linejoin="round" stroke-linecap="round" />
<path d="M240,462 C222,466 203,477 190,497 M238,468.5 C220,474 204,486 193,503" fill="none" stroke="#434a4a" stroke-width="1.15" stroke-linejoin="round" stroke-linecap="round"  transform="translate(559.4,0) scale(-1,1)"/>
<path d="M227.4,472.3 C213,515 201,565 194.6,604.8" fill="none" stroke="#434a4a" stroke-width="1.15" stroke-linejoin="round" stroke-linecap="round" />
<path d="M227.4,472.3 C213,515 201,565 194.6,604.8" fill="none" stroke="#434a4a" stroke-width="1.15" stroke-linejoin="round" stroke-linecap="round"  transform="translate(559.4,0) scale(-1,1)"/>
<path d="M201.6,490.5 C197,530 192,570 189,610.4 M196.7,496 C193,530 188,570 184.9,610.4" fill="none" stroke="#434a4a" stroke-width="1.15" stroke-linejoin="round" stroke-linecap="round" />
<path d="M201.6,490.5 C197,530 192,570 189,610.4 M196.7,496 C193,530 188,570 184.9,610.4" fill="none" stroke="#434a4a" stroke-width="1.15" stroke-linejoin="round" stroke-linecap="round"  transform="translate(559.4,0) scale(-1,1)"/>
<path d="M194.6,604.8 C215,592 248,586.5 279.7,586.5 M196,608 C218,596 250,590 279.7,590" fill="none" stroke="#434a4a" stroke-width="1.15" stroke-linejoin="round" stroke-linecap="round" />
<path d="M194.6,604.8 C215,592 248,586.5 279.7,586.5 M196,608 C218,596 250,590 279.7,590" fill="none" stroke="#434a4a" stroke-width="1.15" stroke-linejoin="round" stroke-linecap="round"  transform="translate(559.4,0) scale(-1,1)"/>
<path d="M199,612 C225,604 255,600.5 279.7,600.5 M199,612 L212,666" fill="none" stroke="#434a4a" stroke-width="1.15" stroke-linejoin="round" stroke-linecap="round" />
<path d="M199,612 C225,604 255,600.5 279.7,600.5 M199,612 L212,666" fill="none" stroke="#434a4a" stroke-width="1.15" stroke-linejoin="round" stroke-linecap="round"  transform="translate(559.4,0) scale(-1,1)"/>
<path d="M212,666 C238,661.5 262,659.8 279.7,659.8 M213.5,670.5 C240,666 262,664.5 279.7,664.5" fill="none" stroke="#434a4a" stroke-width="1.15" stroke-linejoin="round" stroke-linecap="round" />
<path d="M212,666 C238,661.5 262,659.8 279.7,659.8 M213.5,670.5 C240,666 262,664.5 279.7,664.5" fill="none" stroke="#434a4a" stroke-width="1.15" stroke-linejoin="round" stroke-linecap="round"  transform="translate(559.4,0) scale(-1,1)"/>
<path d="M188.4,620 C199,640 207,660 209.5,690 C211,730 211.5,790 213,830 C214,850 215,860 215.6,866.8 L214,876.4 C211,892 207,905 204.7,914.5" fill="none" stroke="#434a4a" stroke-width="1.15" stroke-linejoin="round" stroke-linecap="round" />
<path d="M188.4,620 C199,640 207,660 209.5,690 C211,730 211.5,790 213,830 C214,850 215,860 215.6,866.8 L214,876.4 C211,892 207,905 204.7,914.5" fill="none" stroke="#434a4a" stroke-width="1.15" stroke-linejoin="round" stroke-linecap="round"  transform="translate(559.4,0) scale(-1,1)"/>
<path d="M193,620 C204,640 211.5,662 214.5,690 C217.5,730 219.5,790 219.5,866.8" fill="none" stroke="#434a4a" stroke-width="1.15" stroke-linejoin="round" stroke-linecap="round" />
<path d="M193,620 C204,640 211.5,662 214.5,690 C217.5,730 219.5,790 219.5,866.8" fill="none" stroke="#434a4a" stroke-width="1.15" stroke-linejoin="round" stroke-linecap="round"  transform="translate(559.4,0) scale(-1,1)"/>
<path d="M216.2,866.8 L279.7,866.8" fill="none" stroke="#434a4a" stroke-width="1.15" stroke-linejoin="round" stroke-linecap="round" />
<path d="M216.2,866.8 L279.7,866.8" fill="none" stroke="#434a4a" stroke-width="1.15" stroke-linejoin="round" stroke-linecap="round"  transform="translate(559.4,0) scale(-1,1)"/>
<path d="M213.5,882.9 C232,890 256,893.3 279.7,893.3" fill="none" stroke="#434a4a" stroke-width="1.15" stroke-linejoin="round" stroke-linecap="round" />
<path d="M213.5,882.9 C232,890 256,893.3 279.7,893.3" fill="none" stroke="#434a4a" stroke-width="1.15" stroke-linejoin="round" stroke-linecap="round"  transform="translate(559.4,0) scale(-1,1)"/>
<path d="M222.7,889.5 L216.7,910.2 C240,916 262,919.5 279.7,919.5" fill="none" stroke="#434a4a" stroke-width="1.15" stroke-linejoin="round" stroke-linecap="round" />
<path d="M222.7,889.5 L216.7,910.2 C240,916 262,919.5 279.7,919.5" fill="none" stroke="#434a4a" stroke-width="1.15" stroke-linejoin="round" stroke-linecap="round"  transform="translate(559.4,0) scale(-1,1)"/>
<path d="M205.8,916.2 C235,923 258,926.5 279.7,926.5 M211.3,923.8 C238,928.5 260,930.4 279.7,930.4" fill="none" stroke="#434a4a" stroke-width="1.15" stroke-linejoin="round" stroke-linecap="round" />
<path d="M205.8,916.2 C235,923 258,926.5 279.7,926.5 M211.3,923.8 C238,928.5 260,930.4 279.7,930.4" fill="none" stroke="#434a4a" stroke-width="1.15" stroke-linejoin="round" stroke-linecap="round"  transform="translate(559.4,0) scale(-1,1)"/>
<path d="M184.2,612 C183.8,700 184,790 186.2,860 C188,880 190,895 192.7,903.6 M187.7,612 C187.3,700 187.5,790 190,860" fill="none" stroke="#434a4a" stroke-width="1.15" stroke-linejoin="round" stroke-linecap="round" />
<path d="M184.2,612 C183.8,700 184,790 186.2,860 C188,880 190,895 192.7,903.6 M187.7,612 C187.3,700 187.5,790 190,860" fill="none" stroke="#434a4a" stroke-width="1.15" stroke-linejoin="round" stroke-linecap="round"  transform="translate(559.4,0) scale(-1,1)"/>
<path d="M191.1,800 C193,840 194.5,860 196,870.9 C197.5,880 199,885 200.4,885 C203,885 206,878 208,870.9 C208.5,850 208.5,820 208.5,800" fill="none" stroke="#434a4a" stroke-width="1.15" stroke-linejoin="round" stroke-linecap="round" />
<path d="M191.1,800 C193,840 194.5,860 196,870.9 C197.5,880 199,885 200.4,885 C203,885 206,878 208,870.9 C208.5,850 208.5,820 208.5,800" fill="none" stroke="#434a4a" stroke-width="1.15" stroke-linejoin="round" stroke-linecap="round"  transform="translate(559.4,0) scale(-1,1)"/>
<path d="M187,714.9 L207.2,726 M187,733 L207.2,738.6 M189,794.4 L207.2,801.3 M190.5,821.8 L206.9,809.8 M190.5,829.5 L206.9,816.4" fill="none" stroke="#434a4a" stroke-width="1.15" stroke-linejoin="round" stroke-linecap="round" />
<path d="M187,714.9 L207.2,726 M187,733 L207.2,738.6 M189,794.4 L207.2,801.3 M190.5,821.8 L206.9,809.8 M190.5,829.5 L206.9,816.4" fill="none" stroke="#434a4a" stroke-width="1.15" stroke-linejoin="round" stroke-linecap="round"  transform="translate(559.4,0) scale(-1,1)"/>
<path d="M187.7,631.2 C180,633 170,638 164,645 C161,649 162,651 164,651 C172,649 182,644 188,640 Z" fill="none" stroke="#434a4a" stroke-width="1.15" stroke-linejoin="round" stroke-linecap="round" />
<path d="M187.7,631.2 C180,633 170,638 164,645 C161,649 162,651 164,651 C172,649 182,644 188,640 Z" fill="none" stroke="#434a4a" stroke-width="1.15" stroke-linejoin="round" stroke-linecap="round"  transform="translate(559.4,0) scale(-1,1)"/>
<path d="M241,462 C252,460 265,459 277.5,458.5 C279,459 279,463 277.5,464 C265,465 252,466.5 243,469 C239,469 238,463 241,462 Z" fill="none" stroke="#434a4a" stroke-width="1.15" stroke-linejoin="round" stroke-linecap="round" />
<path d="M241,462 C252,460 265,459 277.5,458.5 C279,459 279,463 277.5,464 C265,465 252,466.5 243,469 C239,469 238,463 241,462 Z" fill="none" stroke="#434a4a" stroke-width="1.15" stroke-linejoin="round" stroke-linecap="round"  transform="translate(559.4,0) scale(-1,1)"/>
<path d="M244,465.5 C255,463.5 266,462.5 276,462" fill="none" stroke="#434a4a" stroke-width="1.15" stroke-linejoin="round" stroke-linecap="round" stroke-dasharray="0.9,1.1"/>
<path d="M244,465.5 C255,463.5 266,462.5 276,462" fill="none" stroke="#434a4a" stroke-width="1.15" stroke-linejoin="round" stroke-linecap="round" stroke-dasharray="0.9,1.1" transform="translate(559.4,0) scale(-1,1)"/>
<path d="M247,473 C258,471 268,470 276,470" fill="none" stroke="#434a4a" stroke-width="1.15" stroke-linejoin="round" stroke-linecap="round" />
<path d="M247,473 C258,471 268,470 276,470" fill="none" stroke="#434a4a" stroke-width="1.15" stroke-linejoin="round" stroke-linecap="round"  transform="translate(559.4,0) scale(-1,1)"/>
<path d="M175.5,695 C174,698 174,704 175.5,707 M175.5,795 C174,798 174,804 175.5,807" fill="none" stroke="#434a4a" stroke-width="1.15" stroke-linejoin="round" stroke-linecap="round" />
<path d="M175.5,695 C174,698 174,704 175.5,707 M175.5,795 C174,798 174,804 175.5,807" fill="none" stroke="#434a4a" stroke-width="1.15" stroke-linejoin="round" stroke-linecap="round"  transform="translate(559.4,0) scale(-1,1)"/>
<path d="M186,612 C185.6,700 185.8,790 188,860" fill="none" stroke="#434a4a" stroke-width="1.15" stroke-linejoin="round" stroke-linecap="round" />
<path d="M186,612 C185.6,700 185.8,790 188,860" fill="none" stroke="#434a4a" stroke-width="1.15" stroke-linejoin="round" stroke-linecap="round"  transform="translate(559.4,0) scale(-1,1)"/>
<path d="M179,520 C178,560 177.5,620 177.5,680 M178.5,740 C178.5,790 180,840 183,870" fill="none" stroke="#434a4a" stroke-width="1.15" stroke-linejoin="round" stroke-linecap="round" />
<path d="M179,520 C178,560 177.5,620 177.5,680 M178.5,740 C178.5,790 180,840 183,870" fill="none" stroke="#434a4a" stroke-width="1.15" stroke-linejoin="round" stroke-linecap="round"  transform="translate(559.4,0) scale(-1,1)"/>
<path d="M203,865 C205,880 207,888 210,892" fill="none" stroke="#434a4a" stroke-width="1.15" stroke-linejoin="round" stroke-linecap="round" />
<path d="M203,865 C205,880 207,888 210,892" fill="none" stroke="#434a4a" stroke-width="1.15" stroke-linejoin="round" stroke-linecap="round"  transform="translate(559.4,0) scale(-1,1)"/>
<circle cx="279.7" cy="472" r="4.2" fill="none" stroke="#434a4a" stroke-width="1.15" stroke-linejoin="round" stroke-linecap="round"/>
<rect x="226.4" y="688" width="105.6" height="105.7" rx="7" fill="none" stroke="#434a4a" stroke-width="1.15" stroke-linejoin="round" stroke-linecap="round"/>
<path d="M276.5,851 C276,840 278,828 279.7,826 C281.4,828 283.4,840 282.9,851 Z" fill="none" stroke="#434a4a" stroke-width="1.15" stroke-linejoin="round" stroke-linecap="round"/>
<line x1="279.7" y1="828.0" x2="279.7" y2="851.0" stroke="#4a5151" stroke-width="0.9" />
<g style="filter:grayscale(1)">
<text x="284.0" y="380.2" text-anchor="middle" textLength="85.0" lengthAdjust="spacingAndGlyphs" font-size="29" fill="#2a3030" stroke="#ffffff" stroke-width="0.8" paint-order="normal" font-family="Liberation Sans, sans-serif">гараж</text>
<text x="286.0" y="418.6" text-anchor="middle" textLength="111.0" lengthAdjust="spacingAndGlyphs" font-size="30.5" fill="#323838" font-family="Liberation Sans, sans-serif">22,60 м²</text>
<text x="770.5" y="292.7" text-anchor="middle" textLength="127.0" lengthAdjust="spacingAndGlyphs" font-size="29" fill="#2a3030" stroke="#ffffff" stroke-width="0.8" paint-order="normal" font-family="Liberation Sans, sans-serif">комната 1</text>
<text x="768.5" y="327.5" text-anchor="middle" textLength="93.0" lengthAdjust="spacingAndGlyphs" font-size="30.5" fill="#323838" font-family="Liberation Sans, sans-serif">10,0 м²</text>
<text x="1008.7" y="345.2" text-anchor="middle" textLength="47.5" lengthAdjust="spacingAndGlyphs" font-size="29" fill="#2a3030" stroke="#ffffff" stroke-width="0.8" paint-order="normal" font-family="Liberation Sans, sans-serif">с/у</text>
<text x="1010.3" y="386.0" text-anchor="middle" textLength="95.0" lengthAdjust="spacingAndGlyphs" font-size="30.5" fill="#323838" font-family="Liberation Sans, sans-serif">3,80 м²</text>
<text x="932.5" y="604.0" text-anchor="middle" textLength="64.0" lengthAdjust="spacingAndGlyphs" font-size="29" fill="#2a3030" stroke="#ffffff" stroke-width="0.8" paint-order="normal" font-family="Liberation Sans, sans-serif">холл</text>
<text x="940.4" y="641.1" text-anchor="middle" textLength="78.3" lengthAdjust="spacingAndGlyphs" font-size="30.5" fill="#323838" font-family="Liberation Sans, sans-serif">9,0 м²</text>
<text x="1323.5" y="437.2" text-anchor="middle" textLength="119.5" lengthAdjust="spacingAndGlyphs" font-size="29" fill="#2a3030" stroke="#ffffff" stroke-width="0.8" paint-order="normal" font-family="Liberation Sans, sans-serif">гостиная</text>
<text x="1327.4" y="475.0" text-anchor="middle" textLength="111.2" lengthAdjust="spacingAndGlyphs" font-size="30.5" fill="#323838" font-family="Liberation Sans, sans-serif">24,50 м²</text>
<text x="707.7" y="671.1" text-anchor="middle" textLength="127.0" lengthAdjust="spacingAndGlyphs" font-size="29" fill="#2a3030" stroke="#ffffff" stroke-width="0.8" paint-order="normal" font-family="Liberation Sans, sans-serif">лестница</text>
<text x="710.8" y="706.7" text-anchor="middle" textLength="95.5" lengthAdjust="spacingAndGlyphs" font-size="30.5" fill="#323838" font-family="Liberation Sans, sans-serif">2,40 м²</text>
<text x="652.3" y="852.2" text-anchor="middle" textLength="47.0" lengthAdjust="spacingAndGlyphs" font-size="29" fill="#2a3030" stroke="#ffffff" stroke-width="0.8" paint-order="normal" font-family="Liberation Sans, sans-serif">тех.</text>
<text x="649.2" y="876.2" text-anchor="middle" textLength="156.7" lengthAdjust="spacingAndGlyphs" font-size="29" fill="#2a3030" stroke="#ffffff" stroke-width="0.8" paint-order="normal" font-family="Liberation Sans, sans-serif">помещение</text>
<text x="662.4" y="914.3" text-anchor="middle" textLength="94.8" lengthAdjust="spacingAndGlyphs" font-size="30.5" fill="#323838" font-family="Liberation Sans, sans-serif">5,50 м²</text>
<text x="929.3" y="987.0" text-anchor="middle" textLength="132.5" lengthAdjust="spacingAndGlyphs" font-size="29" fill="#2a3030" stroke="#ffffff" stroke-width="0.8" paint-order="normal" font-family="Liberation Sans, sans-serif">прихожая</text>
<text x="937.5" y="1021.6" text-anchor="middle" textLength="79.0" lengthAdjust="spacingAndGlyphs" font-size="30.5" fill="#323838" font-family="Liberation Sans, sans-serif">4,0 м²</text>
<text x="1297.7" y="944.9" text-anchor="middle" textLength="207.5" lengthAdjust="spacingAndGlyphs" font-size="29" fill="#2a3030" stroke="#ffffff" stroke-width="0.8" paint-order="normal" font-family="Liberation Sans, sans-serif">кухня-столовая</text>
<text x="1307.0" y="981.7" text-anchor="middle" textLength="105.2" lengthAdjust="spacingAndGlyphs" font-size="30.5" fill="#323838" font-family="Liberation Sans, sans-serif">18,20 м²</text>
</g>
</svg>
</body></html>
